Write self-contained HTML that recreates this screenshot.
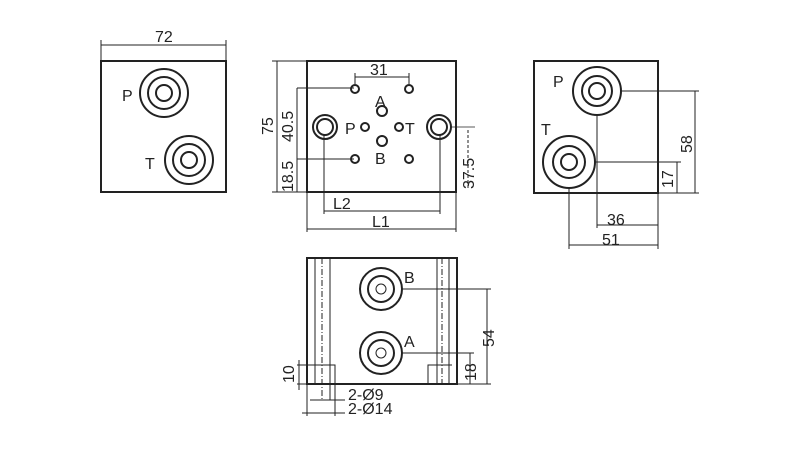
<!DOCTYPE html>
<html><head><style>body{margin:0;background:#fff}svg{display:block}text{font-family:"Liberation Sans",sans-serif;fill:#222}</style></head><body>
<svg width="800" height="450" viewBox="0 0 800 450" xmlns="http://www.w3.org/2000/svg">
<g fill="none" stroke="#222" stroke-width="1">
<rect x="101" y="61" width="125" height="131" stroke-width="2"/>
<line x1="101" y1="45" x2="226" y2="45"/><line x1="101" y1="40" x2="101" y2="61"/><line x1="226" y1="40" x2="226" y2="61"/>
<circle cx="164" cy="93" r="24" stroke-width="2"/><circle cx="164" cy="93" r="16" stroke-width="2"/><circle cx="164" cy="93" r="8" stroke-width="2"/>
<circle cx="189" cy="160" r="24" stroke-width="2"/><circle cx="189" cy="160" r="16" stroke-width="2"/><circle cx="189" cy="160" r="8" stroke-width="2"/>
<rect x="307" y="61" width="149" height="131" stroke-width="2"/>
<line x1="277" y1="61" x2="277" y2="192"/><line x1="272" y1="61" x2="307" y2="61"/><line x1="272" y1="192" x2="307" y2="192"/>
<line x1="297" y1="88" x2="297" y2="192"/><line x1="297" y1="88" x2="354" y2="88"/><line x1="297" y1="159" x2="354" y2="159"/>
<line x1="355" y1="77" x2="409" y2="77"/><line x1="355" y1="73" x2="355" y2="84"/><line x1="409" y1="73" x2="409" y2="84"/>
<circle cx="355" cy="89" r="4" stroke-width="2"/><circle cx="409" cy="89" r="4" stroke-width="2"/>
<circle cx="355" cy="159" r="4" stroke-width="2"/><circle cx="409" cy="159" r="4" stroke-width="2"/>
<circle cx="382" cy="111" r="5" stroke-width="2"/><circle cx="382" cy="141" r="5" stroke-width="2"/>
<circle cx="365" cy="127" r="4" stroke-width="2"/><circle cx="399" cy="127" r="4" stroke-width="2"/>
<circle cx="325" cy="127" r="12" stroke-width="2"/><circle cx="325" cy="127" r="8" stroke-width="2"/>
<circle cx="439" cy="127" r="12" stroke-width="2"/><circle cx="439" cy="127" r="8" stroke-width="2"/>
<line x1="324" y1="135" x2="324" y2="214"/><line x1="440" y1="135" x2="440" y2="214"/><line x1="324" y1="211" x2="440" y2="211"/>
<line x1="307" y1="192" x2="307" y2="232"/><line x1="456" y1="192" x2="456" y2="232"/><line x1="307" y1="229" x2="456" y2="229"/>
<line x1="451" y1="127" x2="475" y2="127" stroke-width="0.7"/><line x1="468" y1="130" x2="468" y2="190" stroke-dasharray="3,2"/>
<rect x="534" y="61" width="124" height="132" stroke-width="2"/>
<circle cx="597" cy="91" r="24" stroke-width="2"/><circle cx="597" cy="91" r="15" stroke-width="2"/><circle cx="597" cy="91" r="8" stroke-width="2"/>
<circle cx="569" cy="162" r="26" stroke-width="2"/><circle cx="569" cy="162" r="16" stroke-width="2"/><circle cx="569" cy="162" r="8" stroke-width="2"/>
<line x1="597" y1="115" x2="597" y2="228"/><line x1="569" y1="188" x2="569" y2="249"/><line x1="658" y1="193" x2="658" y2="249"/>
<line x1="597" y1="225" x2="658" y2="225"/><line x1="569" y1="245" x2="658" y2="245"/>
<line x1="621" y1="91" x2="699" y2="91"/><line x1="695" y1="91" x2="695" y2="193"/><line x1="658" y1="193" x2="699" y2="193"/>
<line x1="595" y1="162" x2="681" y2="162"/><line x1="677" y1="162" x2="677" y2="193"/>
<rect x="307" y="258" width="150" height="126" stroke-width="2"/>
<line x1="315" y1="258" x2="315" y2="384"/><line x1="322" y1="258" x2="322" y2="400" stroke-dasharray="6,2,1,2"/><line x1="330" y1="258" x2="330" y2="400"/>
<line x1="437" y1="258" x2="437" y2="384"/><line x1="442" y1="258" x2="442" y2="384" stroke-dasharray="6,2,1,2"/><line x1="449" y1="258" x2="449" y2="384"/>
<path d="M307 365 H335 V384 M428 384 V365 H452"/>
<circle cx="381" cy="289" r="21" stroke-width="2"/><circle cx="381" cy="289" r="13" stroke-width="2"/><circle cx="381" cy="289" r="5"/>
<circle cx="381" cy="353" r="21" stroke-width="2"/><circle cx="381" cy="353" r="13" stroke-width="2"/><circle cx="381" cy="353" r="5"/>
<line x1="402" y1="289" x2="491" y2="289"/><line x1="487" y1="289" x2="487" y2="384"/><line x1="457" y1="384" x2="491" y2="384"/>
<line x1="402" y1="353" x2="474" y2="353"/><line x1="470" y1="353" x2="470" y2="384"/>
<line x1="297" y1="365" x2="307" y2="365"/><line x1="297" y1="384" x2="307" y2="384"/><line x1="299" y1="360" x2="299" y2="390"/>
<line x1="310" y1="400" x2="345" y2="400"/><line x1="302" y1="413" x2="345" y2="413"/><line x1="307" y1="384" x2="307" y2="416"/><line x1="335" y1="384" x2="335" y2="416"/>
</g>
<g font-size="16">
<text x="155" y="42">72</text>
<text x="122" y="101">P</text><text x="145" y="169">T</text>
<text x="370" y="75">31</text>
<text x="375" y="107">A</text><text x="375" y="164">B</text>
<text x="345" y="134">P</text><text x="405" y="134">T</text>
<text x="333" y="209">L2</text><text x="372" y="227">L1</text>
<text x="553" y="87">P</text><text x="541" y="135">T</text>
<text x="607" y="225">36</text><text x="602" y="245">51</text>
<text x="404" y="283">B</text><text x="404" y="347">A</text>
<text x="348" y="400">2-Ø9</text><text x="348" y="414">2-Ø14</text>
<text transform="translate(273,135) rotate(-90)">75</text>
<text transform="translate(293,142) rotate(-90)">40.5</text>
<text transform="translate(293,192) rotate(-90)">18.5</text>
<text transform="translate(474,189) rotate(-90)">37.5</text>
<text transform="translate(692,153) rotate(-90)">58</text>
<text transform="translate(673,188) rotate(-90)">17</text>
<text transform="translate(494,347) rotate(-90)">54</text>
<text transform="translate(476,381) rotate(-90)">18</text>
<text transform="translate(294,383) rotate(-90)">10</text>
</g>
</svg>
</body></html>
